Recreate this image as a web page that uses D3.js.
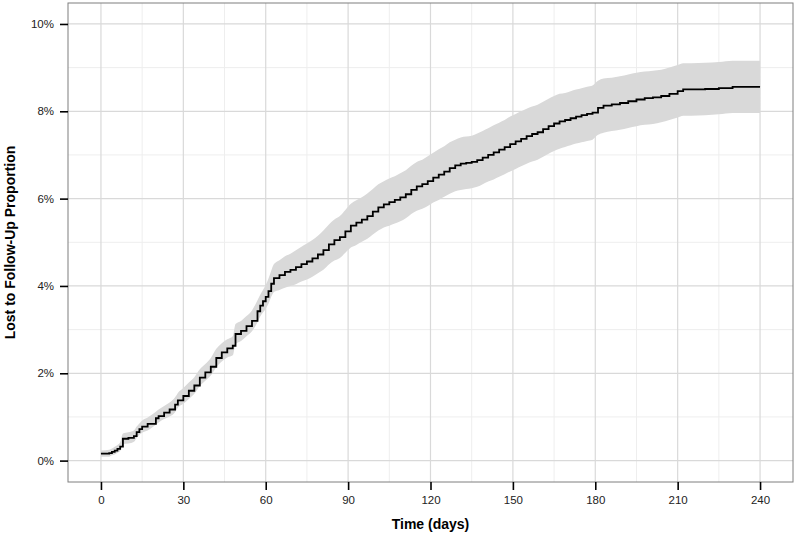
<!DOCTYPE html>
<html><head><meta charset="utf-8">
<script src="https://cdn.jsdelivr.net/npm/d3@7"></script>
<style>body{margin:0;background:#fff}svg{display:block}</style>
</head><body><div id="chart"></div>
<script>
const days = [0,3,4,5,6,7,8,10,12,13,14,15,17,20,21,23,25,27,28,30,32,34,36,38,40,42,44,46,48,49,51,53,55,57,58,59,60,61,62,63,65,67,69,71,73,75,77,79,81,83,85,87,89,91,93,95,97,99,101,103,105,107,109,111,113,115,117,119,121,123,125,127,129,131,133,135,137,139,141,143,145,147,149,151,153,155,157,159,161,163,165,167,169,171,173,175,177,179,181,183,186,189,192,195,198,201,204,207,210,212,215,220,225,230,240];
const estimate = [0.16,0.17,0.20,0.23,0.27,0.32,0.50,0.52,0.56,0.65,0.72,0.78,0.84,0.97,1.02,1.10,1.17,1.28,1.38,1.48,1.60,1.72,1.90,2.02,2.15,2.35,2.48,2.57,2.63,2.90,2.97,3.08,3.20,3.42,3.55,3.65,3.75,3.88,4.05,4.18,4.25,4.32,4.37,4.43,4.50,4.56,4.63,4.72,4.82,4.95,5.05,5.12,5.25,5.38,5.45,5.52,5.60,5.70,5.80,5.87,5.92,5.97,6.03,6.10,6.20,6.28,6.33,6.40,6.48,6.55,6.62,6.70,6.76,6.80,6.82,6.84,6.88,6.94,7.00,7.06,7.12,7.18,7.25,7.31,7.37,7.43,7.48,7.52,7.59,7.66,7.72,7.77,7.80,7.84,7.88,7.91,7.94,7.97,8.08,8.13,8.16,8.19,8.23,8.27,8.30,8.32,8.35,8.40,8.46,8.50,8.50,8.51,8.53,8.56,8.56];
const lower = [0.09,0.09,0.12,0.14,0.18,0.22,0.38,0.39,0.43,0.52,0.59,0.64,0.69,0.82,0.87,0.95,1.01,1.11,1.21,1.30,1.41,1.53,1.71,1.83,1.95,2.14,2.27,2.36,2.41,2.67,2.74,2.85,2.96,3.17,3.30,3.39,3.48,3.59,3.75,3.86,3.91,3.96,4.00,4.04,4.10,4.15,4.21,4.29,4.37,4.49,4.58,4.64,4.76,4.88,4.94,5.01,5.08,5.18,5.27,5.34,5.38,5.43,5.48,5.55,5.65,5.72,5.77,5.83,5.91,5.97,6.04,6.11,6.17,6.20,6.22,6.24,6.27,6.33,6.39,6.44,6.50,6.56,6.62,6.68,6.74,6.80,6.85,6.89,6.96,7.03,7.09,7.14,7.18,7.22,7.26,7.29,7.32,7.35,7.46,7.51,7.55,7.58,7.62,7.66,7.69,7.71,7.75,7.80,7.86,7.90,7.90,7.91,7.93,7.96,7.96];
const upper = [0.23,0.25,0.28,0.32,0.36,0.42,0.62,0.65,0.69,0.78,0.85,0.92,0.99,1.12,1.17,1.25,1.33,1.45,1.55,1.66,1.79,1.91,2.09,2.21,2.35,2.56,2.69,2.78,2.85,3.13,3.20,3.31,3.44,3.67,3.80,3.91,4.02,4.17,4.35,4.50,4.59,4.68,4.74,4.82,4.90,4.97,5.05,5.15,5.27,5.41,5.52,5.60,5.74,5.88,5.96,6.03,6.12,6.22,6.33,6.40,6.46,6.51,6.58,6.65,6.75,6.84,6.89,6.97,7.05,7.13,7.20,7.29,7.35,7.40,7.42,7.44,7.49,7.55,7.61,7.68,7.74,7.80,7.88,7.94,8.00,8.06,8.11,8.15,8.22,8.29,8.35,8.40,8.42,8.46,8.50,8.53,8.56,8.59,8.70,8.75,8.77,8.80,8.84,8.88,8.91,8.93,8.95,9.00,9.06,9.10,9.10,9.11,9.13,9.16,9.16];
const xTicks = [0,30,60,90,120,150,180,210,240];
const xMinor = [15,45,75,105,135,165,195,225];
const yTicks = [0,2,4,6,8,10];
const yMinor = [1,3,5,7,9];
const xTitle = "Time (days)";
const yTitle = "Lost to Follow-Up Proportion";

const W = 797, H = 536;
const L = 68, R = 793, T = 3, B = 482;
const svg = d3.select("#chart").append("svg").attr("width", W).attr("height", H);
const x = d3.scaleLinear().domain([-12, 252]).range([L, R]);
const y = d3.scaleLinear().domain([-0.49, 10.48]).range([B, T]);

const data = days.map((d, i) => ({t: d, e: estimate[i], lo: lower[i], hi: upper[i]}));

const g = svg.append("g");
g.selectAll(".xm").data(xMinor).enter().append("line")
  .attr("x1", d => x(d)).attr("x2", d => x(d)).attr("y1", T).attr("y2", B)
  .attr("stroke", "#eeeeee").attr("stroke-width", 1);
g.selectAll(".ym").data(yMinor).enter().append("line")
  .attr("y1", d => y(d)).attr("y2", d => y(d)).attr("x1", L).attr("x2", R)
  .attr("stroke", "#eeeeee").attr("stroke-width", 1);
g.selectAll(".xM").data(xTicks).enter().append("line")
  .attr("x1", d => x(d)).attr("x2", d => x(d)).attr("y1", T).attr("y2", B)
  .attr("stroke", "#d9d9d9").attr("stroke-width", 1.2);
g.selectAll(".yM").data(yTicks).enter().append("line")
  .attr("y1", d => y(d)).attr("y2", d => y(d)).attr("x1", L).attr("x2", R)
  .attr("stroke", "#d9d9d9").attr("stroke-width", 1.2);

// ribbon (smooth-looking)
const area = d3.area().curve(d3.curveMonotoneX)
  .x(d => x(d.t)).y0(d => y(d.lo)).y1(d => y(d.hi));
svg.append("path").datum(data).attr("d", area).attr("fill", "#d9d9d9").attr("stroke", "none");

const line = d3.line().curve(d3.curveStepAfter).x(d => x(d.t)).y(d => y(d.e));
svg.append("path").datum(data).attr("d", line).attr("fill", "none")
  .attr("stroke", "#000").attr("stroke-width", 1.8);

svg.append("rect").attr("x", L).attr("y", T).attr("width", R - L).attr("height", B - T)
  .attr("fill", "none").attr("stroke", "#7f7f7f").attr("stroke-width", 1);

const xAxis = d3.axisBottom(x).tickValues(xTicks).tickSize(8).tickPadding(6).tickFormat(d3.format("d"));
const xg = svg.append("g").attr("transform", `translate(0,${B})`).call(xAxis);
const yAxis = d3.axisLeft(y).tickValues(yTicks).tickSize(8).tickPadding(6).tickFormat(d => d + "%");
const yg = svg.append("g").attr("transform", `translate(${L},0)`).call(yAxis);
[xg, yg].forEach(a => {
  a.select(".domain").remove();
  a.selectAll(".tick line").attr("stroke", "#000").attr("stroke-width", 1.6);
  a.selectAll(".tick text").attr("fill", "#222").attr("font-family", "Liberation Sans, Arial, sans-serif").attr("font-size", 11.5);
});

svg.append("text").attr("x", (L + R) / 2).attr("y", 529).attr("text-anchor", "middle")
  .attr("font-family", "Liberation Sans, Arial, sans-serif").attr("font-weight", "bold").attr("font-size", 14)
  .text(xTitle);
svg.append("text").attr("transform", `translate(15,${(T + B) / 2}) rotate(-90)`).attr("text-anchor", "middle")
  .attr("font-family", "Liberation Sans, Arial, sans-serif").attr("font-weight", "bold").attr("font-size", 14)
  .text(yTitle);
</script></body></html>
